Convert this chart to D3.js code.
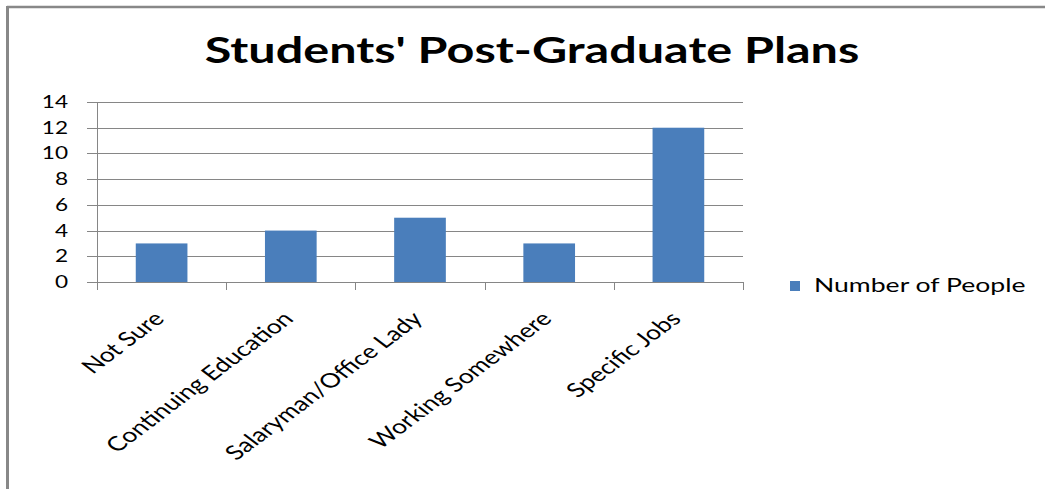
<!DOCTYPE html>
<html>
<head>
<meta charset="utf-8">
<script src="https://cdn.jsdelivr.net/npm/d3@7"></script>
<style>
  body { margin: 0; background: #fff; }
  text { font-family: Lato, "Open Sans", sans-serif; fill: #000; }
</style>
</head>
<body>
<div id="chart"></div>
<script>
// chart data
const categories = ["Not Sure", "Continuing Education", "Salaryman/Office Lady", "Working Somewhere", "Specific Jobs"];
const values = [3, 4, 5, 3, 12];
const yTicks = [0, 2, 4, 6, 8, 10, 12, 14];
const seriesName = "Number of People";
const title = "Students' Post-Graduate Plans";

const width = 1045, height = 489;
const SX = 1.33; // the picture is stretched sideways, so is the text
const plot = { left: 97, right: 743, top: 102, bottom: 282 };

const svg = d3.select("#chart").append("svg")
    .attr("width", width)
    .attr("height", height);

svg.append("rect").attr("width", width).attr("height", height).attr("fill", "#fff");

// frame (only top and left edges show)
svg.append("line").attr("x1", 7).attr("x2", width).attr("y1", 7).attr("y2", 7)
    .attr("stroke", "#888").attr("stroke-width", 2.5);
svg.append("line").attr("x1", 7.5).attr("x2", 7.5).attr("y1", 6).attr("y2", height)
    .attr("stroke", "#888").attr("stroke-width", 3);

svg.append("text")
    .attr("transform", "translate(532,63) scale(" + SX + ",1)")
    .attr("text-anchor", "middle")
    .attr("font-size", 36.5)
    .attr("font-weight", "bold")
    .text(title);

const x = d3.scaleBand()
    .domain(categories)
    .range([plot.left, plot.right])
    .paddingInner(0.6)
    .paddingOuter(0.3);

const y = d3.scaleLinear()
    .domain([0, 14])
    .range([plot.bottom, plot.top]);

// gridlines
svg.append("g").selectAll("line")
    .data(yTicks)
    .enter().append("line")
    .attr("x1", plot.left - 10)
    .attr("x2", plot.right)
    .attr("y1", d => Math.round(y(d)) + 0.5)
    .attr("y2", d => Math.round(y(d)) + 0.5)
    .attr("stroke", "#868686");

// y axis line
svg.append("line")
    .attr("x1", plot.left + 0.5).attr("x2", plot.left + 0.5)
    .attr("y1", y(14)).attr("y2", plot.bottom + 8)
    .attr("stroke", "#868686");

// y tick labels
svg.append("g").selectAll("text")
    .data(yTicks)
    .enter().append("text")
    .attr("transform", d => "translate(68," + (y(d) + 6) + ") scale(" + SX + ",1)")
    .attr("text-anchor", "end")
    .attr("font-size", 17)
    .text(d => d);

// x category tick marks
const bounds = d3.range(categories.length + 1).map(i => plot.left + i * (plot.right - plot.left) / categories.length);
svg.append("g").selectAll("line")
    .data(bounds)
    .enter().append("line")
    .attr("x1", d => Math.round(d) + 0.5)
    .attr("x2", d => Math.round(d) + 0.5)
    .attr("y1", plot.bottom)
    .attr("y2", plot.bottom + 8)
    .attr("stroke", "#868686");

// bars
svg.append("g").selectAll("rect")
    .data(values)
    .enter().append("rect")
    .attr("x", (d, i) => x(categories[i]))
    .attr("width", x.bandwidth())
    .attr("y", d => y(d))
    .attr("height", d => y(0) - y(d))
    .attr("fill", "#4a7ebb");

// category labels, rotated
svg.append("g").selectAll("text")
    .data(categories)
    .enter().append("text")
    .attr("transform", d => "translate(" + (x(d) + x.bandwidth() / 2 + 4) + ",320) scale(" + SX + ",1) rotate(-45)")
    .attr("text-anchor", "end")
    .attr("font-size", 20)
    .text(d => d);

// legend
svg.append("rect")
    .attr("x", 790).attr("y", 281)
    .attr("width", 10).attr("height", 10)
    .attr("fill", "#4a7ebb");
svg.append("text")
    .attr("transform", "translate(814,292) scale(" + SX + ",1)")
    .attr("font-size", 20)
    .text(seriesName);
</script>
</body>
</html>
